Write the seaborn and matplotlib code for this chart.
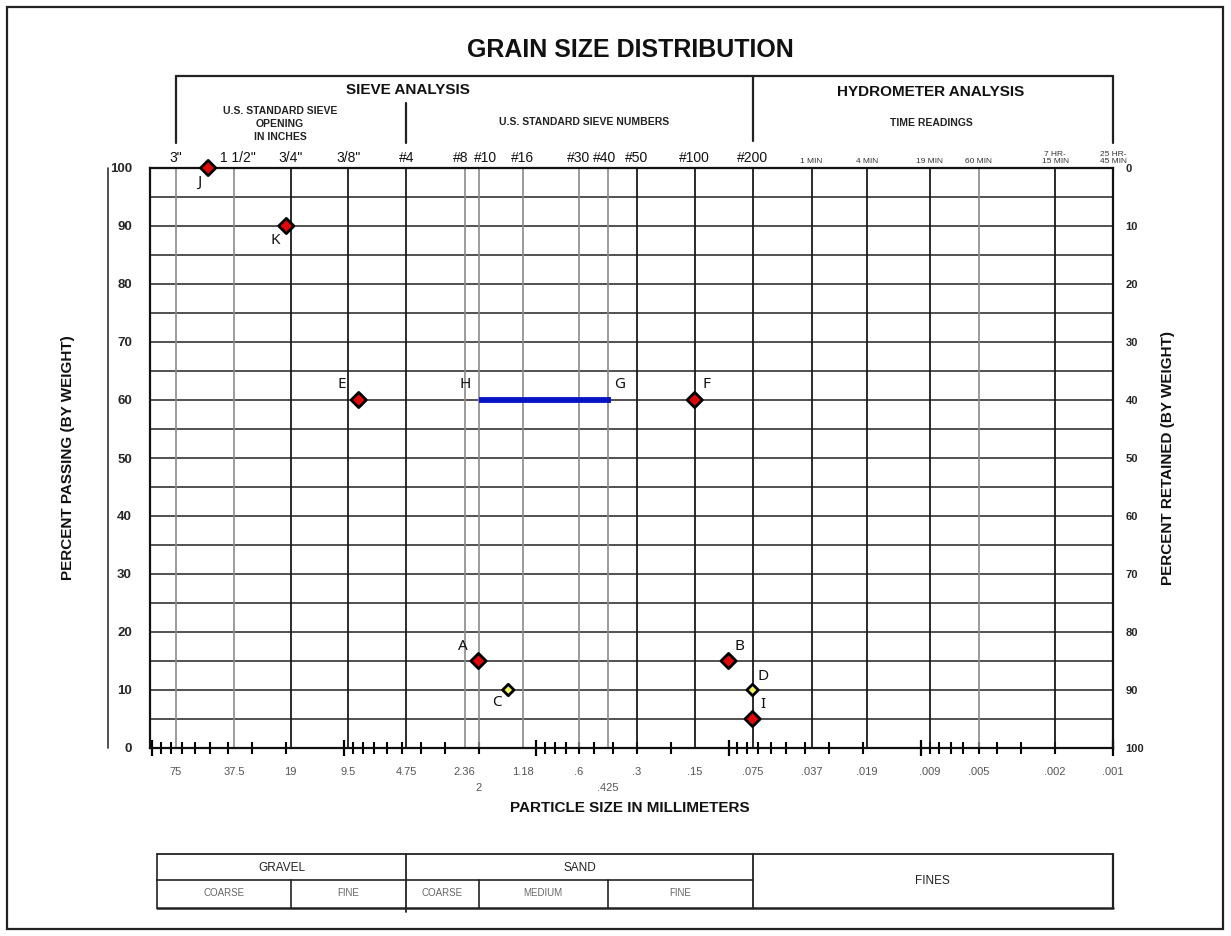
import numpy as np
import pandas as pd
import matplotlib
matplotlib.use("Agg")
import matplotlib.pyplot as plt
import seaborn as sns
from matplotlib.lines import Line2D
from matplotlib.patches import Rectangle
from matplotlib.ticker import LogLocator, NullFormatter, MultipleLocator
from matplotlib.transforms import blended_transform_factory

# ---------------- data ----------------
point_labels = ["J", "K", "E", "F", "A", "B", "I", "C", "D"]
point_size_mm = [51.0, 20.0, 8.4, 0.15, 2.0, 0.10, 0.075, 1.40, 0.075]
point_percent = [100, 90, 60, 60, 15, 15, 5, 10, 10]
point_kind = ["red", "red", "red", "red", "red", "red", "red", "yellow", "yellow"]

line_labels = ["H", "G"]
line_size_mm = [2.0, 0.41]
line_percent = [60, 60]

sieve_labels = ['3"', '1 1/2"', '3/4"', '3/8"', '#4', '#8', '#10', '#16',
                '#30', '#40', '#50', '#100', '#200']
sieve_sizes = [75, 37.5, 19, 9.5, 4.75, 2.36, 2.0, 1.18, 0.6, 0.425, 0.3, 0.15, 0.075]

hydro_labels = ["1 MIN", "4 MIN", "19 MIN", "60 MIN", "7 HR-\n15 MIN", "25 HR-\n45 MIN"]
hydro_sizes = [0.037, 0.019, 0.009, 0.005, 0.002, 0.001]

mm_labels = ["75", "37.5", "19", "9.5", "4.75", "2.36", "2", "1.18", ".6", ".425",
             ".3", ".15", ".075", ".037", ".019", ".009", ".005", ".002", ".001"]
mm_sizes = [75, 37.5, 19, 9.5, 4.75, 2.36, 2.0, 1.18, 0.6, 0.425,
            0.3, 0.15, 0.075, 0.037, 0.019, 0.009, 0.005, 0.002, 0.001]

percent_ticks = list(range(0, 101, 10))

gravel_sand_fines = ["GRAVEL", "SAND", "FINES"]
sub_classes = ["COARSE", "FINE", "COARSE", "MEDIUM", "FINE"]
class_bounds_mm = [4.75, 0.075]
sub_bounds_mm = [19, 4.75, 2.0, 0.425, 0.075]

# ---------------- figure ----------------
sns.set_theme(style="white")
plt.rcParams['font.family'] = ['Liberation Sans', 'DejaVu Sans']

W, H = 1231, 936
def fx(p): return p / W
def fy(p): return 1 - p / H

fig = plt.figure(figsize=(W / 100, H / 100), dpi=100)
fig.patch.set_facecolor("white")
ax = fig.add_axes([fx(150), fy(748), fx(1113) - fx(150), fy(168) - fy(748)])
ax.set_facecolor("white")
ax.set_xscale("log")
ax.set_xlim(102.4, 0.001)
ax.set_ylim(0, 100)

# horizontal grid every 5 %
ax.yaxis.set_major_locator(MultipleLocator(10))
ax.yaxis.set_minor_locator(MultipleLocator(5))
ax.grid(which="both", axis="y", color="#222222", lw=1.1, zorder=1)
ax.set_axisbelow(True)

# vertical sieve / hydrometer lines
dark = {19, 9.5, 4.75, 0.3, 0.15, 0.075, 0.037, 0.019, 0.009, 0.002}
for s in mm_sizes[:-1]:
    if s in dark:
        ax.axvline(s, color="#1a1a1a", lw=1.3, zorder=1)
    else:
        ax.axvline(s, color="#8a8a8a", lw=1.2, zorder=1)

# log ticks on bottom axis
ax.xaxis.set_major_locator(LogLocator(base=10, numticks=20))
ax.xaxis.set_minor_locator(LogLocator(base=10, subs=np.arange(2, 10), numticks=200))
ax.xaxis.set_major_formatter(NullFormatter())
ax.xaxis.set_minor_formatter(NullFormatter())
ax.tick_params(axis="x", which="major", direction="inout", length=11, width=1.6,
               color="black", bottom=True, top=False)
ax.tick_params(axis="x", which="minor", direction="inout", length=8, width=1.5,
               color="black", bottom=True, top=False)

ax.set_yticks(percent_ticks)
ax.tick_params(axis="y", which="both", length=0, pad=13)
for t in ax.get_yticklabels():
    t.set_fontsize(9.5)
    t.set_fontweight("bold")
ax.set_xlabel("")
ax.set_ylabel("")
for sp in ax.spines.values():
    sp.set_color("#111111")
    sp.set_linewidth(1.6)

# right axis: percent retained
ax2 = ax.twinx()
ax2.set_ylim(100, 0)
ax2.set_yticks(percent_ticks)
ax2.tick_params(axis="y", length=0, pad=9, labelsize=8)
for t in ax2.get_yticklabels():
    t.set_fontweight("bold")
for sp in ax2.spines.values():
    sp.set_visible(False)
ax2.grid(False)

# data: blue H-G line and diamonds
sns.lineplot(x=line_size_mm, y=line_percent, color="#0714c4", linewidth=4.2,
             ax=ax, zorder=4, legend=False, solid_capstyle="butt")
df = pd.DataFrame({"size": point_size_mm, "pct": point_percent,
                   "kind": point_kind, "label": point_labels})
sns.scatterplot(data=df, x="size", y="pct", hue="kind", size="kind",
                palette={"red": "#e00808", "yellow": "#f2f25a"},
                sizes={"red": 60, "yellow": 34}, marker="D",
                edgecolor="black", linewidth=2.0, legend=False, ax=ax,
                zorder=6, clip_on=False)
ax.set_xlabel("")
ax.set_ylabel("")

label_offsets = {"J": (-9, -14), "K": (-11, -14), "E": (-17, 16), "F": (12, 16),
                 "A": (-16, 15), "B": (11, 15), "I": (10, 14), "C": (-11, -13),
                 "D": (10, 13), "H": (-13, 16), "G": (9, 16)}
for lab, s, p in zip(point_labels + line_labels, point_size_mm + line_size_mm,
                     point_percent + line_percent):
    dx, dy = label_offsets[lab]
    ax.annotate(lab, xy=(s, p), xytext=(dx, dy), textcoords="offset pixels",
                ha="center", va="center", fontsize=11, family=["Noto Sans", "DejaVu Sans"],
                color="#111111", annotation_clip=False, zorder=7)

# top tick labels
top_dx = {'1 1/2"': 4, '#8': -4, '#10': 7, '#40': -3}
for lab, s in zip(sieve_labels, sieve_sizes):
    ax.annotate(lab, xy=(s, 1), xycoords=("data", "axes fraction"),
                xytext=(top_dx.get(lab, 0), 3), textcoords="offset pixels",
                ha="center", va="bottom", fontsize=10, color="#111111",
                annotation_clip=False)
for lab, s in zip(hydro_labels, hydro_sizes):
    ax.annotate(lab, xy=(s, 1), xycoords=("data", "axes fraction"),
                xytext=(0, 3), textcoords="offset pixels",
                ha="center", va="bottom", fontsize=6, color="#333333",
                linespacing=0.9, annotation_clip=False)

# bottom mm labels
second_row = {"2", ".425"}
for lab, s in zip(mm_labels, mm_sizes):
    dy = -40 if lab in second_row else -24
    ax.annotate(lab, xy=(s, 0), xycoords=("data", "axes fraction"),
                xytext=(0, dy), textcoords="offset pixels",
                ha="center", va="center", fontsize=8, color="#555555",
                annotation_clip=False)

# axis titles
fig.text(fx(630), fy(50), "GRAIN SIZE DISTRIBUTION", ha="center", va="center",
         fontsize=18, fontweight="bold", color="#111111")
fig.text(fx(68), fy(458), "PERCENT PASSING (BY WEIGHT)", rotation=90,
         ha="center", va="center", fontsize=11, fontweight="bold", color="#111111")
fig.text(fx(1168), fy(458), "PERCENT RETAINED (BY WEIGHT)", rotation=90,
         ha="center", va="center", fontsize=11, fontweight="bold", color="#111111")
fig.text(fx(630), fy(808), "PARTICLE SIZE IN MILLIMETERS", ha="center", va="center",
         fontsize=11, fontweight="bold", color="#111111")

# header brackets
tr = blended_transform_factory(ax.transData, fig.transFigure)
def hline(x0, x1, y, lw=1.6, color="#222222"):
    fig.add_artist(Line2D([x0, x1], [fy(y), fy(y)], transform=tr, lw=lw, color=color))
def vline(x, y0, y1, lw=1.6, color="#222222"):
    fig.add_artist(Line2D([x, x], [fy(y0), fy(y1)], transform=tr, lw=lw, color=color))

hline(75, 0.001, 76)
vline(75, 76, 143)
vline(0.001, 76, 143)
vline(0.075, 76, 141)
vline(4.75, 103, 143)

fig.text(fx(408), fy(90), "SIEVE ANALYSIS", ha="center", va="center",
         fontsize=11, fontweight="bold", color="#111111")
fig.text(fx(280), fy(124), "U.S. STANDARD SIEVE\nOPENING\nIN INCHES", ha="center",
         va="center", fontsize=7.5, fontweight="bold", color="#222222", linespacing=1.4)
fig.text(fx(584), fy(122), "U.S. STANDARD SIEVE NUMBERS", ha="center", va="center",
         fontsize=7.5, fontweight="bold", color="#222222")
fig.text(fx(931), fy(92), "HYDROMETER ANALYSIS", ha="center", va="center",
         fontsize=11, fontweight="bold", color="#111111")
fig.text(fx(931), fy(123), "TIME READINGS", ha="center", va="center",
         fontsize=7.5, fontweight="bold", color="#222222")

# extra left line
fig.add_artist(Line2D([fx(108), fx(108)], [fy(168), fy(748)], transform=fig.transFigure,
                      lw=1.2, color="#333333"))

# soil classification table
left_mm = 94
hline(left_mm, 0.001, 854, lw=1.3)
hline(left_mm, 0.001, 908, lw=1.8)
hline(left_mm, 0.075, 880, lw=1.2)
vline(left_mm, 854, 908, lw=1.2)
vline(0.001, 854, 908, lw=1.6)
vline(class_bounds_mm[0], 854, 912, lw=1.3)
vline(class_bounds_mm[1], 854, 908, lw=1.3)
for b in [sub_bounds_mm[0], sub_bounds_mm[2], sub_bounds_mm[3]]:
    vline(b, 880, 908, lw=1.2)

def gmid(a, b):
    return np.sqrt(a * b)

top_bounds = [left_mm] + class_bounds_mm + [0.001]
for i, lab in enumerate(gravel_sand_fines):
    yy = 868 if lab != "FINES" else 881
    fig.text(gmid(top_bounds[i], top_bounds[i + 1]), fy(yy), lab, transform=tr,
             ha="center", va="center", fontsize=8.5, color="#222222")
sub_edges = [left_mm] + sub_bounds_mm
for i, lab in enumerate(sub_classes):
    fig.text(gmid(sub_edges[i], sub_edges[i + 1]), fy(893), lab, transform=tr,
             ha="center", va="center", fontsize=7, color="#666666")

# outer border
fig.add_artist(Rectangle((fx(7), fy(929)), fx(1223) - fx(7), fy(7) - fy(929),
                         transform=fig.transFigure, fill=False, lw=1.6, ec="#222222"))

fig.savefig("out.png", dpi=100, facecolor="white")
